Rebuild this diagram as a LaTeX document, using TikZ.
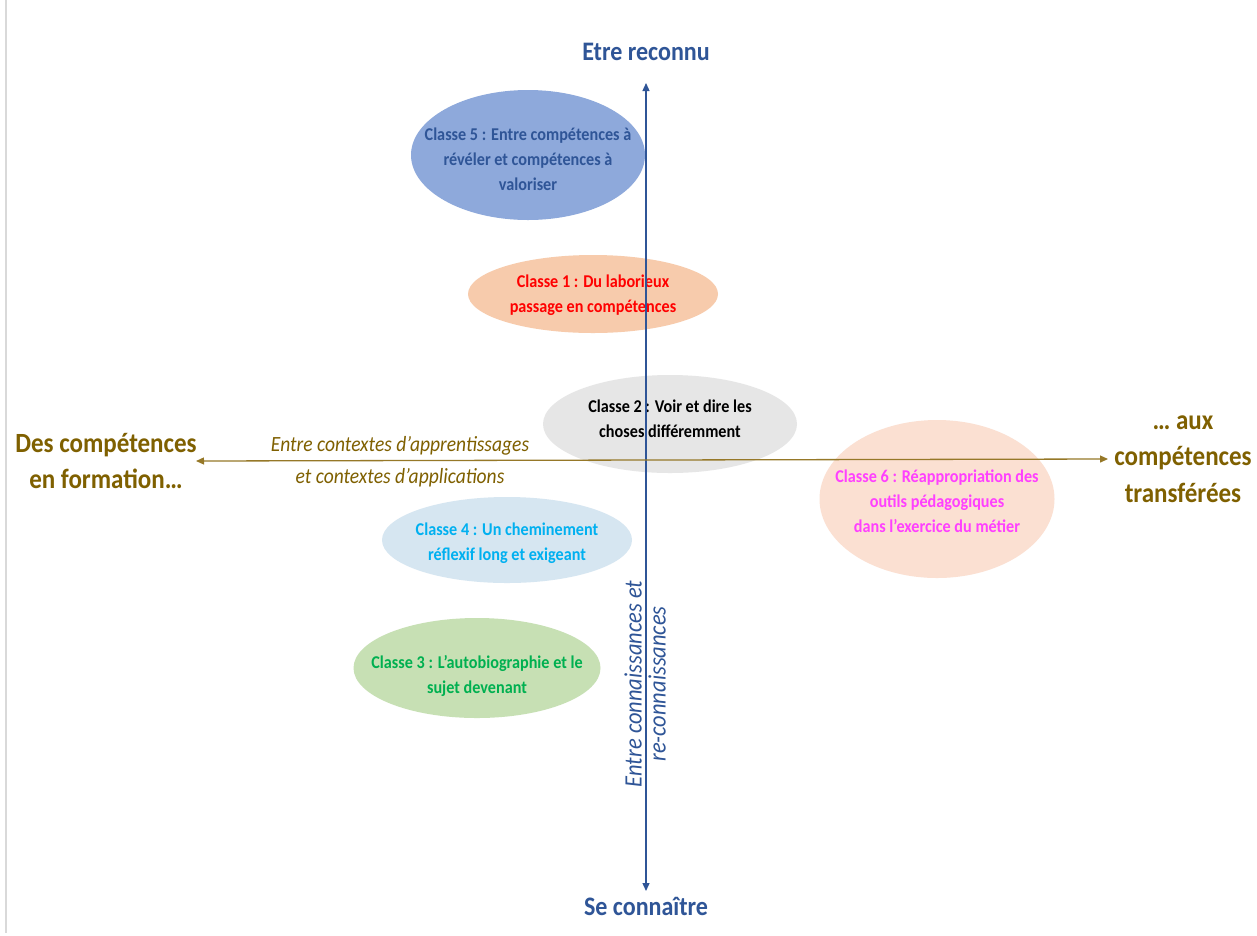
\documentclass[tikz,border=0pt]{standalone}
\usepackage{fontspec}
\setmainfont{Carlito}[FakeStretch=0.9]
\usetikzlibrary{shapes.geometric,arrows.meta}
\definecolor{axblue}{RGB}{47,85,151}
\definecolor{axgold}{RGB}{127,96,0}
\definecolor{lngold}{RGB}{150,120,40}
\definecolor{f5}{RGB}{142,169,219}
\definecolor{f1}{RGB}{247,203,172}
\definecolor{f2}{RGB}{230,230,230}
\definecolor{f6}{RGB}{251,224,210}
\definecolor{f4}{RGB}{214,230,241}
\definecolor{f3}{RGB}{199,224,180}
\definecolor{t4}{RGB}{0,176,240}
\definecolor{t3}{RGB}{0,176,80}
\definecolor{t6}{RGB}{255,64,255}
\begin{document}
\begin{tikzpicture}[x=1pt,y=-1pt,
  cls/.style={ellipse,inner sep=0pt,draw=none},
  clstxt/.style={align=center,font=\fontsize{18}{25}\selectfont\bfseries,inner sep=0pt},
  pole/.style={align=center,font=\fontsize{27.8}{36.5}\selectfont\bfseries,text=axgold,inner sep=0pt},
  vpole/.style={font=\fontsize{26.7}{30}\selectfont\bfseries,text=axblue,inner sep=0pt},
  lab/.style={align=center,font=\fontsize{21.7}{32}\selectfont\itshape,inner sep=0pt},
  axis/.style={line width=1.3pt}]
\useasboundingbox (0,0) rectangle (1257,935);
\fill[white] (0,0) rectangle (1257,935);
\draw[black!15,line width=1.2pt] (6,0) -- (6,933);
% ellipses
\node[cls,fill=f5,minimum width=234,minimum height=130] (c5) at (528,155) {};
\node[cls,fill=f1,minimum width=250,minimum height=78] (c1) at (593,294) {};
\node[cls,fill=f2,minimum width=254,minimum height=98] (c2) at (670,424) {};
\node[cls,fill=f6,minimum width=235,minimum height=158] (c6) at (937,499) {};
\node[cls,fill=f4,minimum width=250,minimum height=86] (c4) at (507,540) {};
\node[cls,fill=f3,minimum width=247,minimum height=100] (c3) at (477,668) {};
\node[clstxt,text=axblue] (t5) at ([yshift=-4pt]c5) {Classe 5 : Entre compétences à\\révéler et compétences à\\valoriser};
\node[clstxt,text=red] (t1) at ([yshift=-1pt]c1) {Classe 1 : Du laborieux\\passage en compétences};
\node[clstxt,text=black] (t2) at ([yshift=5pt]c2) {Classe 2 : Voir et dire les\\choses différemment};
\node[clstxt,text=t6] (t6) at ([yshift=-2pt]c6) {Classe 6 : Réappropriation des\\outils pédagogiques\\dans l’exercice du métier};
\node[clstxt,text=t4] (t4) at ([yshift=-3pt]c4) {Classe 4 : Un cheminement\\réflexif long et exigeant};
\node[clstxt,text=t3] (t3) at ([yshift=-8pt]c3) {Classe 3 : L’autobiographie et le\\sujet devenant};
% poles
\node[vpole] (top) at (646,52) {Etre reconnu};
\node[vpole] (bot) at (646,906) {Se connaître};
\node[pole] (left) at (106,461) {Des compétences\\en formation…};
\node[pole] (right) at (1183,459) {… aux\\compétences\\transférées};
\coordinate (vt) at (646,83);
\coordinate (vb) at (646,891);
\coordinate (hl) at (196,461);
\coordinate (hr) at (1108,459);
\draw[axis,axblue,{Triangle[width=7pt,length=8pt]}-{Triangle[width=7pt,length=8pt]}] (vb) -- (vt);
\draw[axis,lngold,{Triangle[width=7pt,length=8pt]}-{Triangle[width=7pt,length=8pt]}] (hl) -- (hr);
\node[lab,text=axgold] (hlab) at (400,462) {Entre contextes d’apprentissages\\et contextes d’applications};
\node[lab,text=axblue,rotate=90,font=\fontsize{25}{24}\selectfont\itshape] (vlab) at (645,684) {Entre connaissances et\\re-connaissances};
\end{tikzpicture}
\end{document}
